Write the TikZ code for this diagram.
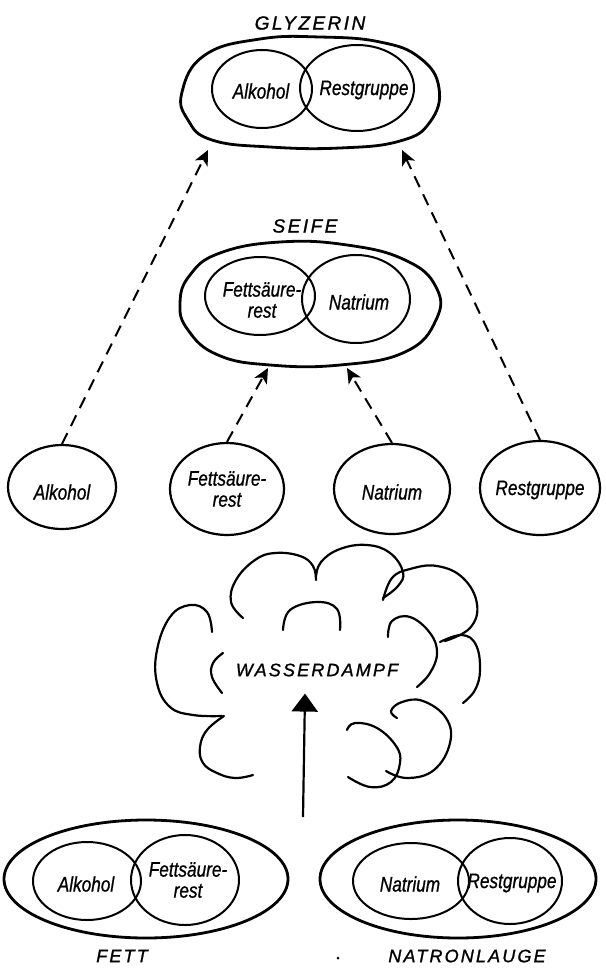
\documentclass[tikz,border=0pt]{standalone}
\usepackage{fontspec}
\setmainfont{Liberation Sans}
\usetikzlibrary{shapes.geometric,arrows.meta}
\begin{document}
\begin{tikzpicture}[x=1pt,y=-1pt,
  outerline/.style={draw, line width=2.8pt},
  outerbox/.style={draw, line width=2.8pt, inner sep=0pt},
  innerbox/.style={draw, ellipse, line width=2pt, inner sep=0pt},
  lbl/.style={font=\fontsize{21}{21}\selectfont\itshape\addfontfeatures{FakeStretch=0.82,FakeBold=0.8}, align=center, inner sep=0pt},
  ttl/.style={font=\fontsize{19}{19}\selectfont\itshape\addfontfeatures{LetterSpace=13,FakeBold=1.2}, inner sep=0pt},
  dasharrow/.style={line width=2pt, dash pattern=on 12pt off 8pt, -{Stealth[length=15pt,width=14pt,inset=4pt]}},
  solidarrow/.style={line width=2.2pt, -{Triangle[length=18pt,width=26pt]}},
  cloudline/.style={line width=2.2pt, line cap=round},
]
\useasboundingbox (0,0) rectangle (605,971);

% ---------------- GLYZERIN
\node[ttl] (tgly) at (310,23) {GLYZERIN};
\draw[outerline] plot[smooth cycle, tension=0.75] coordinates {(182,92) (205,55) (260,39) (320,37) (380,42) (420,58) (439,88) (430,122) (400,141) (340,148) (270,147) (212,140) (188,120)};
\coordinate (glyL) at (208,150);
\coordinate (glyR) at (402,150);
\node[innerbox, minimum width=100pt, minimum height=78pt] (galk) at (262,89) {};
\node[innerbox, minimum width=114pt, minimum height=86pt] (grest) at (357,88) {};
\node[lbl] (galkt) at (261,91) {Alkohol};
\node[lbl] (grestt) at (364,90) {Restgruppe};

% ---------------- SEIFE
\node[ttl] (tseife) at (305,226) {SEIFE};
\draw[outerline] plot[smooth cycle, tension=0.75] coordinates {(180,303) (190,275) (220,253) (280,242) (347,245) (405,260) (436,287) (436,320) (405,352) (340,365) (270,365) (218,355) (188,330)};
\coordinate (seifeL) at (268,368);
\coordinate (seifeR) at (347,368);
\node[innerbox, minimum width=110pt, minimum height=78pt] (sfett) at (260,296) {};
\node[innerbox, minimum width=108pt, minimum height=88pt] (snat) at (356,299) {};
\node[lbl] (sfettt) at (262,300) {Fettsäure-\\rest};
\node[lbl] (snatt) at (359,302) {Natrium};

% ---------------- single parts
\node[innerbox, line width=2.2pt, minimum width=108pt, minimum height=84pt] (alk) at (62,487) {};
\node[innerbox, line width=2.2pt, minimum width=114pt, minimum height=92pt] (fett) at (227,489) {};
\node[innerbox, line width=2.2pt, minimum width=116pt, minimum height=90pt] (nat) at (392,489) {};
\node[innerbox, line width=2.2pt, minimum width=120pt, minimum height=94pt] (rest) at (540,488) {};
\node[lbl] (alkt) at (62,492) {Alkohol};
\node[lbl] (fettt) at (227,489) {Fettsäure-\\rest};
\node[lbl] (natt) at (392,492) {Natrium};
\node[lbl] (restt) at (540,490) {Restgruppe};

% ---------------- dashed arrows
\draw[dasharrow] (alk.north) -- (glyL);
\draw[dasharrow] (rest.north) -- (glyR);
\draw[dasharrow] (fett.north) -- (seifeL);
\draw[dasharrow] (nat.north) -- (seifeR);

% ---------------- cloud
\begin{scope}[cloudline]
\draw plot[smooth, tension=0.7] coordinates {(243,618) (231,602) (236,580) (255,560) (275,553) (300,556) (313,566) (316,580)};
\draw plot[smooth, tension=0.7] coordinates {(316,577) (321,562) (340,549) (367,545) (390,553) (403,572) (398,586) (383,598)};
\draw plot[smooth, tension=0.7] coordinates {(383,600) (392,578) (410,569) (437,566) (463,578) (477,604) (470,628) (445,641)};
\draw plot[smooth, tension=0.7] coordinates {(440,642) (462,635) (476,645) (480,670) (475,690) (463,703)};
\draw plot[smooth, tension=0.7] coordinates {(212,632) (207,612) (190,605) (170,617) (157,650) (157,683) (170,707) (193,715) (222,716)};
\draw plot[smooth, tension=0.7] coordinates {(224,716) (207,730) (200,747) (203,763) (217,773) (235,778) (253,775)};
\draw plot[smooth, tension=0.7] coordinates {(283,630) (290,610) (317,602) (337,609) (340,630)};
\draw plot[smooth, tension=0.7] coordinates {(388,637) (392,621) (410,617) (430,633) (437,653) (430,673) (417,687)};
\draw plot[smooth, tension=0.7] coordinates {(223,653) (213,663) (212,677) (222,693)};
\draw plot[smooth, tension=0.7] coordinates {(347,730) (355,723) (377,728) (396,746) (400,763) (391,782) (370,787) (348,777)};
\draw plot[smooth, tension=0.7] coordinates {(397,718) (391,711) (402,702) (423,701) (446,718) (450,743) (434,770) (407,778) (386,771)};
\end{scope}
\node[ttl, font=\fontsize{18}{18}\selectfont\itshape\addfontfeatures{LetterSpace=12,FakeBold=1.2}] (wd) at (317,670) {WASSERDAMPF};
\coordinate (wbase) at (303,817);
\draw[solidarrow] (wbase) -- ([xshift=2pt,yshift=-17pt]wd.south -| wbase);

% ---------------- FETT / NATRONLAUGE
\node[outerbox, ellipse, minimum width=284pt, minimum height=118pt] (fettbig) at (146,879) {};
\node[innerbox, minimum width=108pt, minimum height=78pt] (falk) at (87,881) {};
\node[innerbox, minimum width=108pt, minimum height=90pt] (ffett) at (185,880) {};
\node[lbl] (falkt) at (86,884) {Alkohol};
\node[lbl] (ffettt) at (188,880) {Fettsäure-\\rest};

\node[outerbox, ellipse, minimum width=276pt, minimum height=118pt] (nl) at (458,879) {};
\node[innerbox, minimum width=116pt, minimum height=76pt] (nnat) at (411,881) {};
\node[innerbox, minimum width=104pt, minimum height=86pt] (nrest) at (510,881) {};
\node[lbl] (nnatt) at (410,884) {Natrium};
\node[lbl] (nrestt) at (512,883) {Restgruppe};

\node[ttl, font=\fontsize{18}{18}\selectfont\itshape\addfontfeatures{LetterSpace=12,FakeBold=1.2}] (tfett) at (122,956) {FETT};
\node[ttl, font=\fontsize{18}{18}\selectfont\itshape\addfontfeatures{LetterSpace=12,FakeBold=1.2}] (tnl) at (467,956) {NATRONLAUGE};
\node[circle, fill, inner sep=0pt, minimum size=3pt] (dot) at (338,958) {};
\end{tikzpicture}
\end{document}
